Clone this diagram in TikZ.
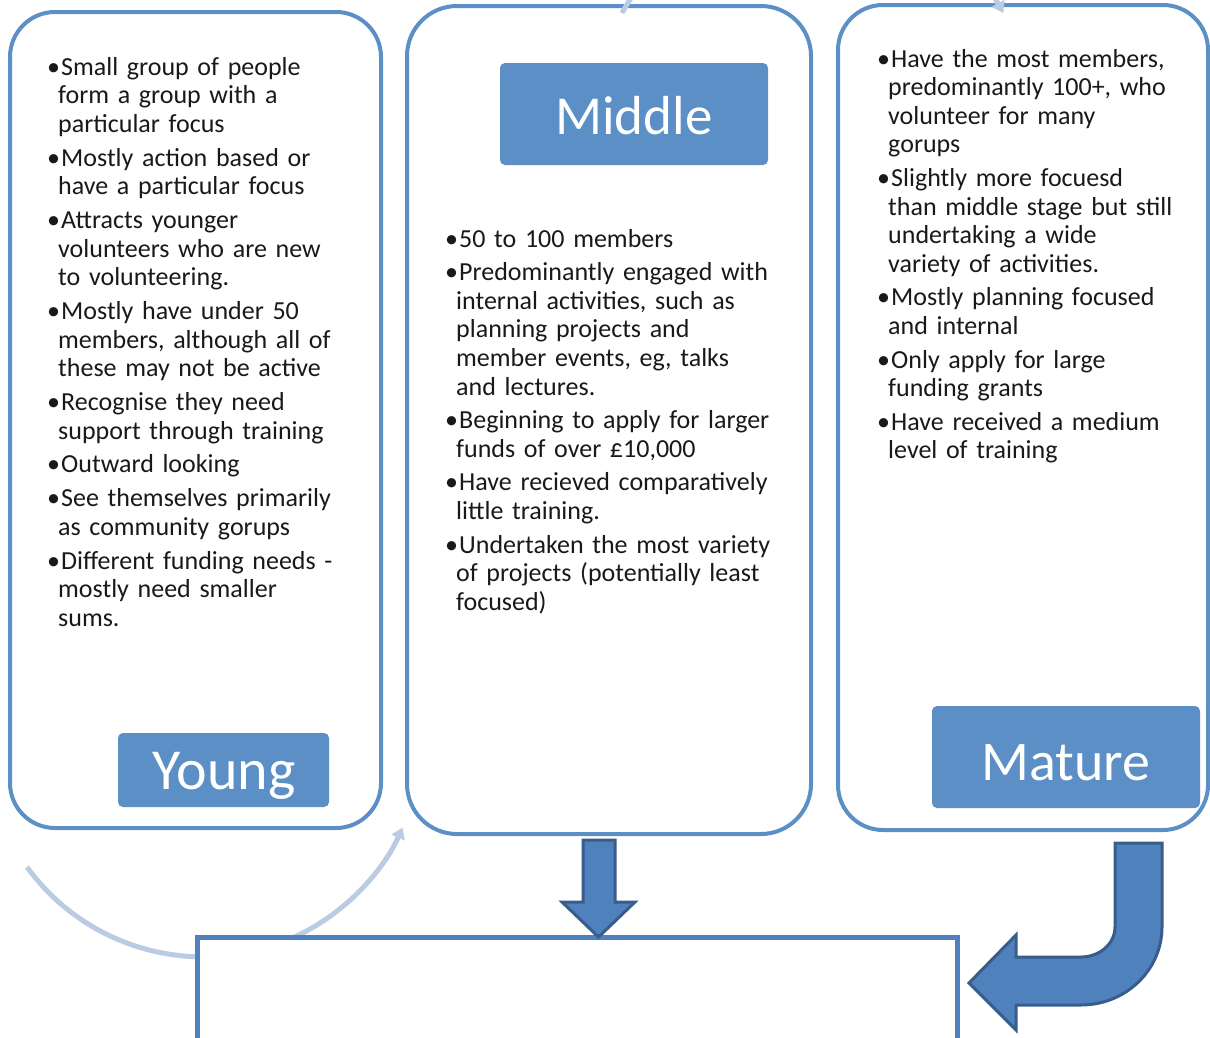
\documentclass[tikz,border=0pt]{standalone}
\usepackage{fontspec}
\setmainfont{Carlito}
\usetikzlibrary{arrows.meta}
\definecolor{boxblue}{RGB}{91,143,198}
\definecolor{arrowfill}{RGB}{79,129,189}
\definecolor{arrowline}{RGB}{56,93,138}
\definecolor{cyclelight}{RGB}{186,204,227}
\definecolor{textdark}{RGB}{25,25,25}
\newcommand{\bulmark}{\hspace*{-11pt}\makebox[14pt][l]{•}}
\newcommand{\bulfirst}{\noindent\bulmark}
\newcommand{\bul}{\par\noindent\bulmark}
\begin{document}
\begin{tikzpicture}[x=1pt,y=1pt,
  stagebox/.style={draw=boxblue, line width=4pt, fill=white, inner sep=0pt},
  labelbox/.style={fill=boxblue, rounded corners=5pt, inner sep=0pt},
  labeltext/.style={text=white, anchor=base, inner sep=0pt},
  bullets/.style={anchor=base west, inner sep=0pt, text width=330pt, align=left, text=textdark, font=\fontsize{26}{28.6}\selectfont},
  blockarrow/.style={fill=arrowfill, draw=arrowline, line width=3pt, line join=miter},
  cyclearc/.style={draw=cyclelight, line width=5pt, -{Triangle[length=11pt,width=14pt]}},
  outbox/.style={draw=arrowfill, line width=5pt, fill=white, inner sep=0pt}
]
\useasboundingbox (0,0) rectangle (1210,-1037);
\clip (0,0) rectangle (1210,-1037);

% lower cycle arc (behind the bottom box)
\coordinate (arcAstart) at (27,-867);
\draw[cyclearc] (arcAstart) arc[start angle=216, end angle=336, radius=218pt];

% stage boxes
\node[stagebox, rounded corners=45pt, minimum width=371pt, minimum height=816pt] (young) at (195.5,-420) {};
\node[stagebox, rounded corners=50pt, minimum width=404pt, minimum height=828pt] (middle) at (609,-420) {};
\node[stagebox, rounded corners=45pt, minimum width=370pt, minimum height=825pt] (mature) at (1023,-417.5) {};

% upper cycle arc
\coordinate (arcBstart) at (622,-13);
\draw[cyclearc] (arcBstart) arc[start angle=151, end angle=29, radius=218pt];

% labels
\node[labelbox, minimum width=268pt, minimum height=102pt] (midlab) at (634,-114) {};
\node[labeltext, font=\fontsize{55}{60}\selectfont] (midtxt) at (634,-134) {Middle};
\node[labelbox, minimum width=211pt, minimum height=74pt] (younglab) at (223.5,-770) {};
\node[labeltext, font=\fontsize{58}{62}\selectfont] (youngtxt) at (224,-789) {Young};
\node[labelbox, minimum width=268pt, minimum height=102pt] (maturelab) at (1066,-757) {};
\node[labeltext, font=\fontsize{56}{60}\selectfont] (maturetxt) at (1066,-780) {Mature};

% bullet texts
\node[bullets] (youngtext) at (58,-75) {\setlength{\parskip}{5.2pt}%
\bulfirst Small group of people\\form a group with a\\particular focus
\bul Mostly action based or\\have a particular focus
\bul Attracts younger\\volunteers who are new\\to volunteering.
\bul Mostly have under 50\\members, although all of\\these may not be active
\bul Recognise they need\\support through training
\bul Outward looking
\bul See themselves primarily\\as community gorups
\bul Different funding needs -\\mostly need smaller\\sums.\par};

\node[bullets] (middletext) at (456,-247) {\setlength{\parskip}{5pt}%
\bulfirst 50 to 100 members
\bul Predominantly engaged with\\internal activities, such as\\planning projects and\\member events, eg, talks\\and lectures.
\bul Beginning to apply for larger\\funds of over £10,000
\bul Have recieved comparatively\\little training.
\bul Undertaken the most variety\\of projects (potentially least\\focused)\par};

\node[bullets] (maturetext) at (888,-67) {\setlength{\parskip}{5pt}%
\bulfirst Have the most members,\\predominantly 100+, who\\volunteer for many\\gorups
\bul Slightly more focuesd\\than middle stage but still\\undertaking a wide\\variety of activities.
\bul Mostly planning focused\\and internal
\bul Only apply for large\\funding grants
\bul Have received a medium\\level of training\par};

% bottom box
\node[outbox, minimum width=760pt, minimum height=140pt, anchor=north west] (result) at (195,-935) {};

% down arrow from middle
\draw[blockarrow] (583,-840) -- (615,-840) -- (615,-902) -- (635,-902) -- (598.5,-937) -- (562,-902) -- (583,-902) -- cycle;

% bent arrow from mature
\draw[blockarrow] (1115,-843) -- (1162,-843) -- (1162,-927)
  arc[start angle=0, end angle=-90, x radius=81pt, y radius=78pt]
  -- (1016,-1005) -- (1016,-1030) -- (969,-983) -- (1016,-935) -- (1016,-957) -- (1081,-957)
  arc[start angle=-90, end angle=0, x radius=34pt, y radius=30pt]
  -- cycle;
\end{tikzpicture}
\end{document}
